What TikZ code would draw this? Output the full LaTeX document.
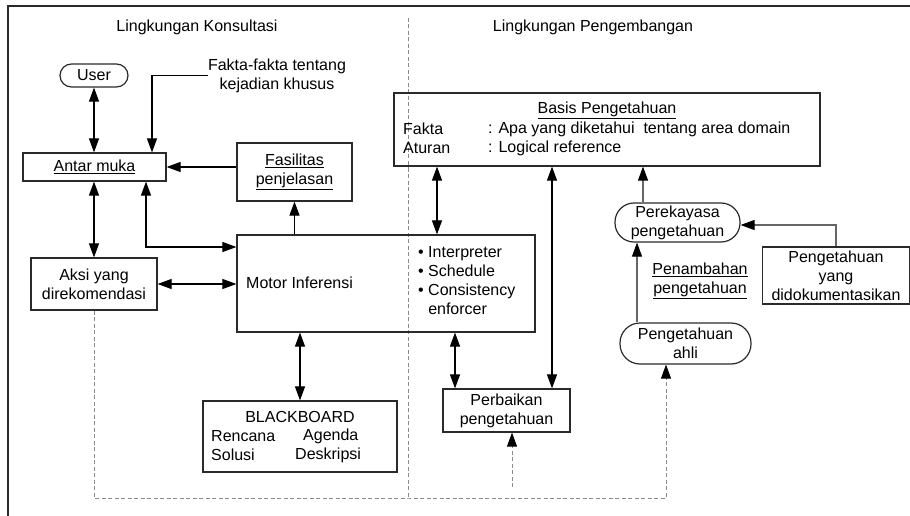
\documentclass[tikz,border=0pt]{standalone}
\usepackage{fontspec}
\setmainfont{Liberation Sans}
\usetikzlibrary{arrows.meta,calc}
\definecolor{boxline}{HTML}{2A2A2A}
\definecolor{greyline}{HTML}{666666}
\definecolor{dashgrey}{HTML}{8A8A8A}
\begin{document}
\begin{tikzpicture}[x=1pt,y=-1pt,
  every node/.style={font=\fontsize{16}{19}\selectfont, inner sep=0pt, text=black},
  box/.style={draw=boxline, line width=1.2pt, rectangle, align=center},
  pill/.style={draw=boxline, line width=1.2pt, rectangle, align=center},
  conn/.style={draw=black, line width=1.1pt},
  arr/.style={conn, -{Triangle[length=14pt,width=10pt,color=black]}},
  dbl/.style={conn, {Triangle[length=14pt,width=10pt,color=black]}-{Triangle[length=14pt,width=10pt,color=black]}},
  garr/.style={draw=greyline, line width=1.1pt, -{Triangle[length=14pt,width=10pt,color=black]}},
  dsh/.style={draw=dashgrey, line width=0.8pt, dash pattern=on 4pt off 2.5pt},
  dsharr/.style={dsh, -{Triangle[length=14pt,width=10pt,color=black]}},
]
\useasboundingbox (0,0) rectangle (910,516);
% outer frame
\draw[line width=1.5pt, boxline] (8,540) -- (8,6) -- (940,6);

% titles
\node (t1) at (197,27) {Lingkungan Konsultasi};
\node (t2) at (593,27) {Lingkungan Pengembangan};

% divider
\coordinate (divtop) at (408,18);
\coordinate (divbot) at (408,498);
\draw[dsh] (divtop) -- (divbot);

% nodes
\node[pill, rounded corners=11.5pt, minimum width=68pt, minimum height=23pt] (user) at (94,75.5) {User};
\node[align=center] (fakta) at (277,75.5) {Fakta-fakta tentang\\kejadian khusus};
\node[box, minimum width=143pt, minimum height=28pt] (antar) at (94.5,167) {\underline{Antar muka}};
\node[box, minimum width=115pt, minimum height=58pt] (fasil) at (294.5,172) {\underline{Fasilitas}\\\underline{penjelasan}};
\node[box, minimum width=126pt, minimum height=52pt] (aksi) at (94,284) {Aksi yang\\direkomendasi};
\node[box, minimum width=298pt, minimum height=97pt] (motor) at (386,283.5) {};
\node[anchor=west] (mtxt) at (246,283) {Motor Inferensi};
\node[anchor=west, align=left] (mlist) at (418,280.5) {\textbullet\ Interpreter\\\textbullet\ Schedule\\\textbullet\ Consistency\\\phantom{\textbullet\ }enforcer};

\node[box, minimum width=426pt, minimum height=73pt] (basis) at (607,129.5) {};
\node (btitle) at (607,110) {\underline{Basis Pengetahuan}};
\node[anchor=west] (bf) at (403,129) {Fakta};
\node[anchor=west] (bfd) at (488,129) {: Apa yang diketahui\ \ tentang area domain};
\node[anchor=west] (ba) at (403,148) {Aturan};
\node[anchor=west] (bad) at (488,148) {: Logical reference};

\node[box, minimum width=194pt, minimum height=71pt] (bb) at (300,436.5) {};
\node (bbt) at (300,417) {BLACKBOARD};
\node[anchor=west] (bb1) at (211,436) {Rencana};
\node[anchor=west] (bb2) at (303,436) {Agenda};
\node[anchor=west] (bb3) at (211,455) {Solusi};
\node[anchor=west] (bb4) at (295,455) {Deskripsi};

\node[box, minimum width=127pt, minimum height=43pt] (perb) at (506.5,410.5) {Perbaikan\\pengetahuan};
\node[pill, rounded corners=19pt, minimum width=125pt, minimum height=39pt] (perek) at (677.5,222.5) {Perekayasa\\pengetahuan};
\node[box, minimum width=147pt, minimum height=57pt] (didok) at (836,275.5) {Pengetahuan\\yang\\didokumentasikan};
\node[align=center] (penamb) at (700,281) {\underline{Penambahan}\\\underline{pengetahuan}};
\node[pill, rounded corners=20pt, minimum width=131pt, minimum height=41pt] (ahli) at (685.5,343.5) {Pengetahuan\\ahli};

% connectors (left side)
\draw[dbl] (user.south) -- (user.south |- antar.north);
\draw[arr] (fakta.west) -| ([xshift=57.5pt]antar.north);
\draw[arr] (fasil.west |- antar.east) -- (antar.east);
\draw[arr] (motor.north -| fasil.south) -- (fasil.south);
\draw[dbl] (antar.south -| aksi.north) -- (aksi.north);
\draw[dbl] ([xshift=51.5pt]antar.south) |- ([yshift=36.5pt]motor.west);
\draw[dbl] (aksi.east) -- (aksi.east -| motor.west);
\draw[dbl] (motor.south -| bb.north) -- (bb.north);

% connectors (right side)
\draw[dbl] ([xshift=-170pt]basis.south) -- ([xshift=-170pt]basis.south |- motor.north);
\draw[dbl] ([xshift=-51.5pt]motor.south -| perb.north) -- ([xshift=-51.5pt]perb.north);
\draw[dbl] ([xshift=-55pt]basis.south) -- ([xshift=45.5pt]perb.north);
\draw[garr] ([xshift=-34.5pt]perek.north) -- ([xshift=-34.5pt]perek.north |- basis.south);
\draw[garr] ([xshift=-48.5pt]ahli.north) -- ([xshift=-48.5pt]ahli.north |- perek.south);
\draw[garr] (didok.north) |- ([yshift=-2.5pt]perek.east);

% dashed connectors
\draw[dsharr] (aksi.south) |- (divbot) -| ([xshift=-19.5pt]ahli.south);
\coordinate (pfree) at (512,487);
\draw[dsharr] (pfree) -- (pfree |- perb.south);
\end{tikzpicture}
\end{document}
